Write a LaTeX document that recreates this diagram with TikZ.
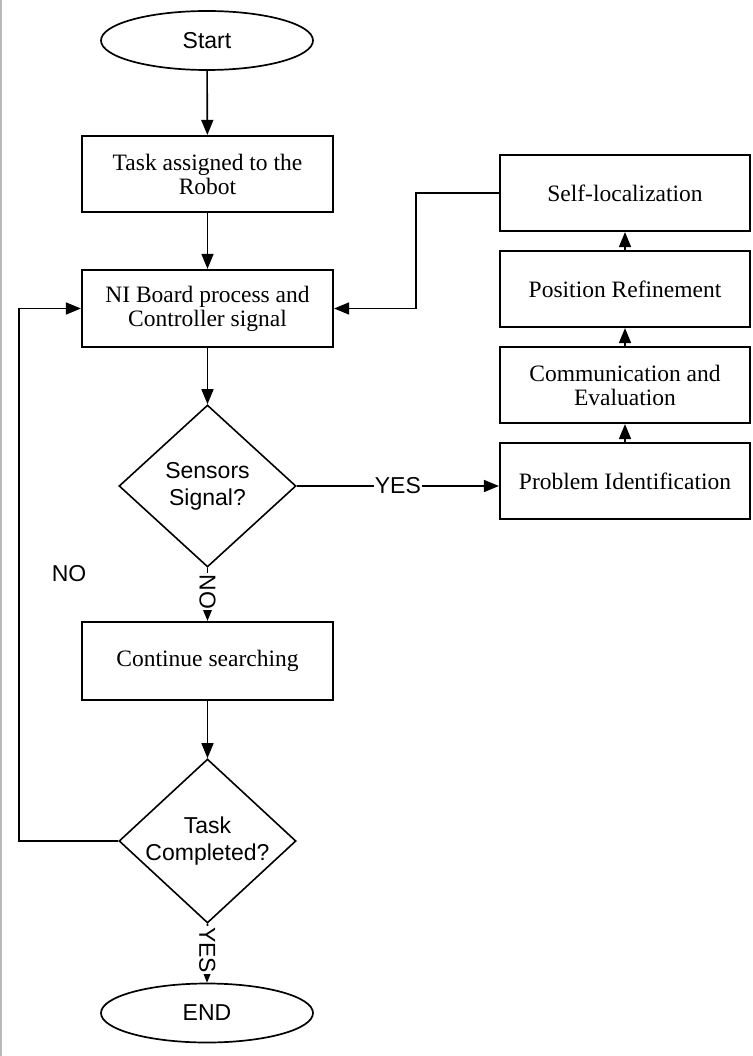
\documentclass[tikz,border=0pt]{standalone}
\usepackage{fontspec}
\setmainfont{Liberation Serif}
\newfontfamily\sansf{Liberation Sans}
\usetikzlibrary{shapes.geometric,arrows.meta}
\begin{document}
\begin{tikzpicture}[x=1pt,y=-1pt,
  serifbox/.style={draw,line width=2.2pt,rectangle,inner sep=0pt,minimum width=251pt,minimum height=76pt,align=center,font=\fontsize{23.5}{24}\selectfont},
  decis/.style={draw,line width=1.6pt,diamond,aspect=1.09,inner sep=0pt,minimum width=177pt,minimum height=163pt,align=center,font=\sansf\fontsize{23}{27}\selectfont},
  term/.style={draw,line width=1.7pt,ellipse,inner sep=0pt,minimum width=212pt,minimum height=59pt,font=\sansf\fontsize{23}{27}\selectfont},
  conn/.style={line width=1.6pt,-{Triangle[length=15pt,width=12pt]}},
  lbl/.style={fill=white,inner sep=1pt,font=\sansf\fontsize{23}{27}\selectfont}
]
\useasboundingbox (0,0) rectangle (752,1056);
\fill[white] (0,0) rectangle (752,1056);
\draw[gray!55,line width=1.6pt] (0.8,0) -- (0.8,1056);

\node[term] (start) at (207,40.5) {Start};
\node[serifbox] (task) at (207.5,174) {Task assigned to the\\Robot};
\node[serifbox,minimum height=77pt] (ni) at (207.5,308.5) {NI Board process and\\Controller signal};
\node[decis,minimum height=162pt] (sens) at (207.5,486) {Sensors\\Signal?};
\node[serifbox,minimum height=78pt] (cont) at (207.5,661) {Continue searching};
\node[decis,minimum height=164pt] (done) at (207.5,841) {Task\\Completed?};
\node[term] (endn) at (207,1013) {END};

\node[serifbox,minimum width=250pt] (self) at (625,193) {Self-localization};
\node[serifbox,minimum width=250pt] (posr) at (625,289) {Position Refinement};
\node[serifbox,minimum width=250pt] (comm) at (625,385) {Communication and\\Evaluation};
\node[serifbox,minimum width=250pt] (prob) at (625,481) {Problem Identification};

\coordinate (selfturn) at (416,193);
\coordinate (loopleft) at (19,841);

\draw[conn] (start) -- (task);
\draw[conn] (task) -- (ni);
\draw[conn] (ni) -- (sens);
\draw[conn] (sens.south) -- node[lbl,rotate=-90,pos=0.45]{NO} (cont.north);
\draw[conn] (cont) -- (done);
\draw[conn] (done.south) -- node[lbl,rotate=-90,pos=0.45]{YES} (endn.north);
\draw[conn] (sens.east) -- node[lbl,pos=0.5]{YES} (sens.east -| prob.west);
\draw[conn] (prob) -- (comm);
\draw[conn] (comm) -- (posr);
\draw[conn] (posr) -- (self);
\draw[conn] (self.west) -- (selfturn) |- (ni.east);
\draw[conn] (done.west) -- (loopleft) |- (ni.west);

\node[font=\sansf\fontsize{23}{27}\selectfont,inner sep=0pt] (nolbl) at (69,574) {NO};
\end{tikzpicture}
\end{document}
